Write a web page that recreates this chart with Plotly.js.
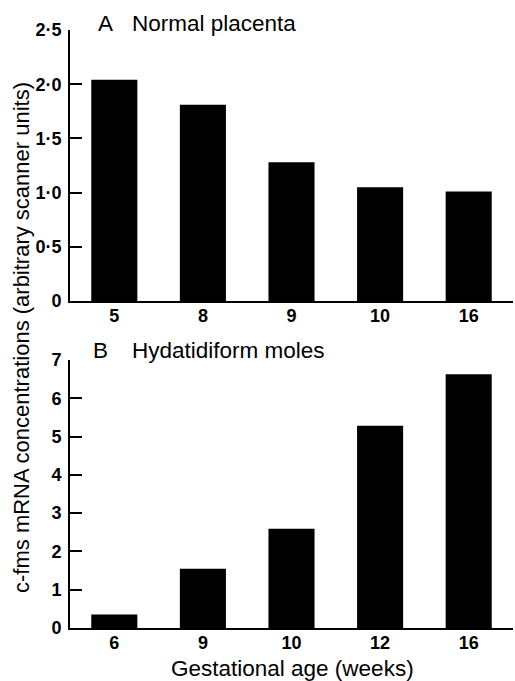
<!DOCTYPE html>
<html>
<head>
<meta charset="utf-8">
<script src="https://cdn.plot.ly/plotly-3.0.1.min.js"></script>
<style>html,body{margin:0;padding:0;background:#fff;}#chart{width:515px;height:681px;}</style>
</head>
<body>
<div id="chart"></div>
<script>
// Panel A: Normal placenta
const weeksA = ['5', '8', '9', '10', '16'];
const valuesA = [2.04, 1.81, 1.28, 1.05, 1.01];
const tickValsA = [0, 0.5, 1.0, 1.5, 2.0, 2.5];
const tickTextA = ['0', '0·5', '1·0', '1·5', '2·0', '2·5'];

// Panel B: Hydatidiform moles
const weeksB = ['6', '9', '10', '12', '16'];
const valuesB = [0.35, 1.55, 2.59, 5.28, 6.63];
const tickValsB = [0, 1, 2, 3, 4, 5, 6, 7];
const tickTextB = ['0', '1', '2', '3', '4', '5', '6', '7'];

const titleA = 'Normal placenta';
const titleB = 'Hydatidiform moles';
const yTitle = 'c-fms mRNA concentrations (arbitrary scanner units)';
const xTitle = 'Gestational age (weeks)';

const W = 515, H = 681;
const px = v => v / W;
const py = v => 1 - v / H;
const FONT = '"Liberation Sans", Arial, Helvetica, sans-serif';

const traces = [
  {type: 'bar', x: weeksA, y: valuesA, xaxis: 'x', yaxis: 'y', width: 0.52,
   marker: {color: '#000', line: {width: 0}}, hoverinfo: 'none'},
  {type: 'bar', x: weeksB, y: valuesB, xaxis: 'x2', yaxis: 'y2', width: 0.52,
   marker: {color: '#000', line: {width: 0}}, hoverinfo: 'none'}
];

const xCommon = {
  type: 'category', range: [-0.5, 4.5], domain: [px(70), px(513)],
  showline: true, linecolor: '#000', linewidth: 2, ticks: '', showgrid: false,
  zeroline: false, fixedrange: true, ticklabelstandoff: -3,
  tickfont: {family: FONT, size: 18, color: '#000', weight: 'bold'}
};
const yCommon = {
  showline: true, linecolor: '#000', linewidth: 2, ticks: 'inside', ticklen: 12,
  tickwidth: 2, tickcolor: '#000', showgrid: false, zeroline: false, fixedrange: true,
  tickmode: 'array', ticklabelstandoff: 3,
  tickfont: {family: FONT, size: 18, color: '#000', weight: 'bold'}
};

const layout = {
  width: W, height: H,
  margin: {l: 0, r: 0, t: 0, b: 0},
  paper_bgcolor: '#fff', plot_bgcolor: '#fff',
  showlegend: false,
  font: {family: FONT, color: '#000'},
  xaxis: Object.assign({}, xCommon, {anchor: 'y'}),
  yaxis: Object.assign({}, yCommon, {anchor: 'x', domain: [py(301), py(30)], range: [0, 2.5],
    tickvals: tickValsA, ticktext: tickTextA}),
  xaxis2: Object.assign({}, xCommon, {anchor: 'y2'}),
  yaxis2: Object.assign({}, yCommon, {anchor: 'x2', domain: [py(628), py(360)], range: [0, 7],
    tickvals: tickValsB, ticktext: tickTextB}),
  annotations: [
    {text: 'A', xref: 'paper', yref: 'paper', x: px(96), y: py(23), xanchor: 'left', yanchor: 'middle',
     showarrow: false, font: {family: FONT, size: 22.5, color: '#000'}},
    {text: titleA, xref: 'paper', yref: 'paper', x: px(130), y: py(23), xanchor: 'left', yanchor: 'middle',
     showarrow: false, font: {family: FONT, size: 22.5, color: '#000'}},
    {text: 'B', xref: 'paper', yref: 'paper', x: px(91), y: py(350), xanchor: 'left', yanchor: 'middle',
     showarrow: false, font: {family: FONT, size: 22.5, color: '#000'}},
    {text: titleB, xref: 'paper', yref: 'paper', x: px(130), y: py(350), xanchor: 'left', yanchor: 'middle',
     showarrow: false, font: {family: FONT, size: 22.5, color: '#000'}},
    {text: yTitle, xref: 'paper', yref: 'paper', x: px(21), y: py(338), xanchor: 'center', yanchor: 'middle',
     textangle: -90, showarrow: false, font: {family: FONT, size: 22, color: '#000'}},
    {text: xTitle, xref: 'paper', yref: 'paper', x: px(292), y: py(668), xanchor: 'center', yanchor: 'middle',
     showarrow: false, font: {family: FONT, size: 22.5, color: '#000'}}
  ]
};

Plotly.newPlot('chart', traces, layout, {displayModeBar: false, staticPlot: true});
</script>
</body>
</html>
